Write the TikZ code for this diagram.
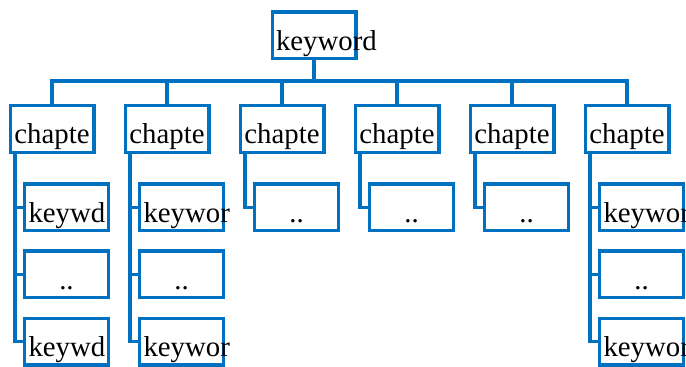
\documentclass[tikz,border=0pt]{standalone}
\usepackage{fontspec}
\setmainfont{Liberation Serif}
\usetikzlibrary{trees}
\definecolor{chartblue}{RGB}{0,112,192}
\hyphenpenalty=10000
\begin{document}
\begin{tikzpicture}[x=0.75pt, y=-0.75pt,
    every node/.style = {shape=rectangle, 
      draw=chartblue, line width=2.3pt, align=center,
      text width=56.95pt, inner xsep=3pt, inner ysep=0pt,
      text height=28.7pt, text depth=6.5pt,
      font=\fontsize{21.6pt}{21.6pt}\selectfont},
    edge from parent/.style = {draw=chartblue, line width=2.5pt},
    level 1/.style = {grow via three points={one child at (-262,93.5) and two children at (-262,93.5) and (-147,93.5)},
      edge from parent path={(\tikzparentnode.south) -- ++(0,20.5) -| (\tikzchildnode.north)}},
    level 2/.style = {grow via three points={one child at (14.5,78.5) and two children at (14.5,78.5) and (14.5,145.5)},
      edge from parent path={(\tikzparentnode.south west) ++(6.5,0) |- (\tikzchildnode.west)}}]
    \useasboundingbox (0,0) rectangle (686,367);
    \node (kw) at (314,35.5) {keyword}
        child { node (ch1) {chapte}
            child { node (ch1a) {keywd} }
            child { node (ch1b) {..} }
            child { node (ch1c) {keywd} } }
        child { node (ch2) {chapte}
            child { node (ch2a) {keywor} }
            child { node (ch2b) {..} }
            child { node (ch2c) {keywor} } }
        child { node (ch3) {chapte} child { node (ch3a) {..} } }
        child { node (ch4) {chapte} child { node (ch4a) {..} } }
        child { node (ch5) {chapte} child { node (ch5a) {..} } }
        child { node (ch6) {chapte}
            child { node (ch6a) {keywor} }
            child { node (ch6b) {..} }
            child { node (ch6c) {keywor} } };
  \end{tikzpicture}
\end{document}
